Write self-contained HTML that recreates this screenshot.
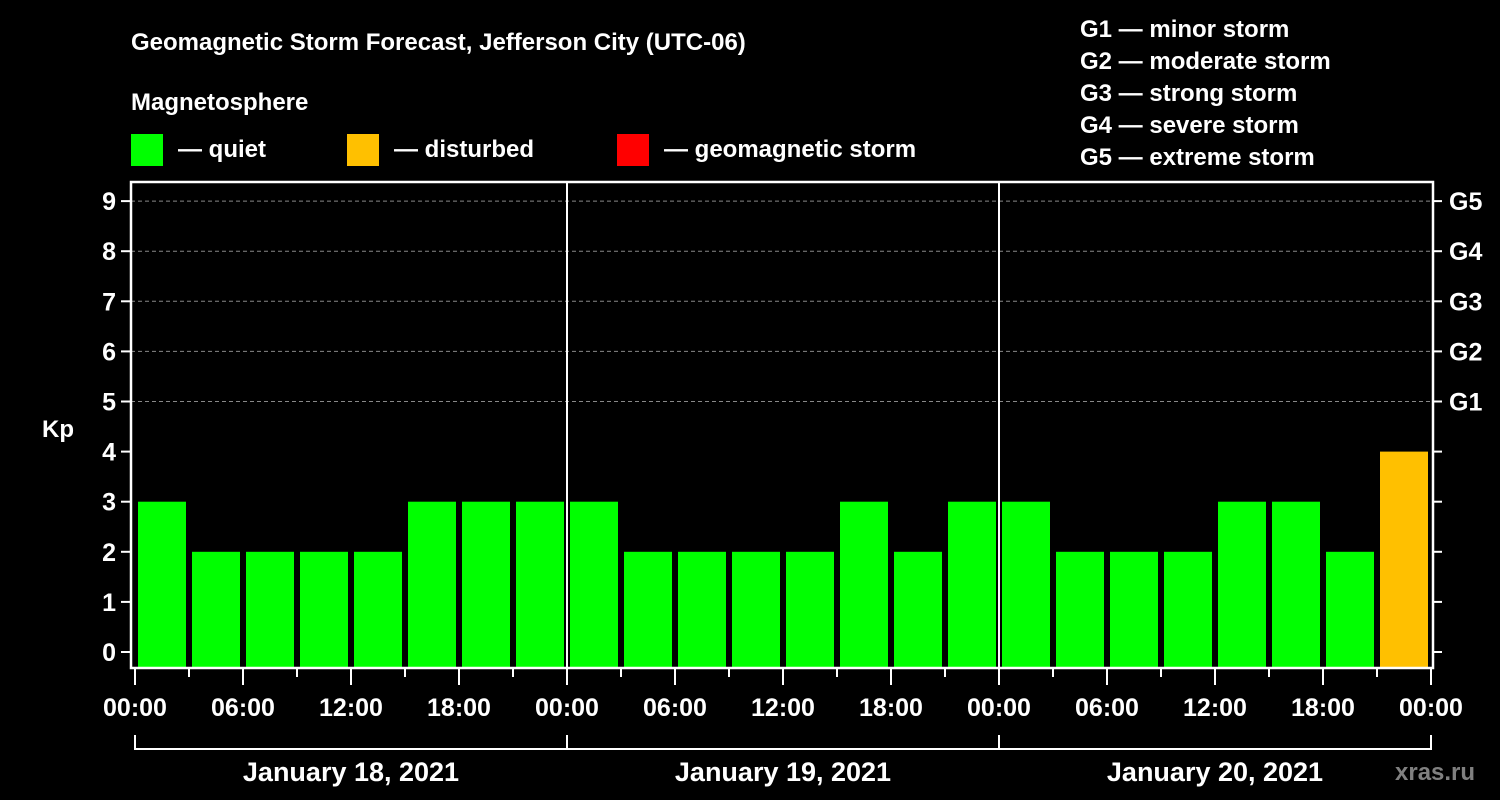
<!DOCTYPE html>
<html><head><meta charset="utf-8"><style>
html,body{margin:0;padding:0;background:#000;width:1500px;height:800px;overflow:hidden}
svg{display:block;font-family:"Liberation Sans",Arial,sans-serif;font-weight:bold}
</style></head><body>
<svg id="chart" width="1500" height="800" viewBox="0 0 1500 800">
<rect width="1500" height="800" fill="#000"/>
<g fill="#fff" font-size="24">
<text x="131" y="50">Geomagnetic Storm Forecast, Jefferson City (UTC-06)</text>
<text x="131" y="110">Magnetosphere</text>
<text x="178" y="157">— quiet</text>
<text x="394" y="157">— disturbed</text>
<text x="664" y="157">— geomagnetic storm</text>
<text x="1080" y="37">G1 — minor storm</text>
<text x="1080" y="69">G2 — moderate storm</text>
<text x="1080" y="101">G3 — strong storm</text>
<text x="1080" y="133">G4 — severe storm</text>
<text x="1080" y="165">G5 — extreme storm</text>
<text x="42" y="437">Kp</text>
</g>
<rect x="131" y="134" width="32" height="32" fill="#00ff00"/>
<rect x="347" y="134" width="32" height="32" fill="#ffc000"/>
<rect x="617" y="134" width="32" height="32" fill="#ff0000"/>
<text x="1395" y="780" fill="#808080" font-size="24">xras.ru</text>
<g id="plot"></g>
</svg>
<script>
const kpValues=[3,2,2,2,2,3,3,3, 3,2,2,2,2,3,2,3, 3,2,2,2,3,3,2,4];
const kpTicks=[0,1,2,3,4,5,6,7,8,9];
const gLabels=["G1","G2","G3","G4","G5"];
const timeLabels=["00:00","06:00","12:00","18:00","00:00","06:00","12:00","18:00","00:00","06:00","12:00","18:00","00:00"];
const dayLabels=["January 18, 2021","January 19, 2021","January 20, 2021"];

const NS="http://www.w3.org/2000/svg";
const plot=document.getElementById('plot');
const X0=135,SLOT=54,Y0=652,KU=50.1,BOT=668,TOP=182,LEFT=131,RIGHT=1433;
const x=i=>X0+i*SLOT;
const y=k=>Y0-k*KU;
function mk(t,a,txt){const e=document.createElementNS(NS,t);for(const k in a)e.setAttribute(k,a[k]);if(txt!==undefined)e.textContent=txt;plot.appendChild(e);return e;}

// grid
kpTicks.forEach(k=>{if(k>=5){const g=mk('line',{x1:LEFT,x2:RIGHT,y1:y(k),y2:y(k),stroke:'#888','stroke-dasharray':'4,3','stroke-width':1});

}});
// bars
kpValues.forEach((v,i)=>{const c=v>=5?'#ff0000':(v>=4?'#ffc000':'#00ff00');
const r=mk('rect',{x:x(i)+3,y:y(v),width:48,height:BOT-y(v),fill:c});

});
// day separators
[1,2].forEach(d=>{const l=mk('line',{x1:x(d*8),x2:x(d*8),y1:TOP,y2:BOT,stroke:'#fff','stroke-width':2});

});
// frame
const f=mk('rect',{x:LEFT,y:TOP,width:RIGHT-LEFT,height:BOT-TOP,fill:'none',stroke:'#fff','stroke-width':2.5});


// y ticks
kpTicks.forEach(k=>{
const t=mk('line',{x1:LEFT-10,x2:LEFT,y1:y(k),y2:y(k),stroke:'#fff','stroke-width':2});


const t2=mk('line',{x1:RIGHT,x2:RIGHT+9,y1:y(k),y2:y(k),stroke:'#fff','stroke-width':2});


const l=mk('text',{x:LEFT-15,y:y(k)+9,fill:'#fff','font-size':25,'text-anchor':'end'},String(k));

});
gLabels.forEach((g,i)=>{const l=mk('text',{x:RIGHT+16,y:y(5+i)+9,fill:'#fff','font-size':25},g);

});
// x ticks
for(let i=0;i<=24;i++){const major=i%2===0;
const t=mk('line',{x1:x(i),x2:x(i),y1:BOT,y2:BOT+(major?17:9),stroke:'#fff','stroke-width':2});

}
timeLabels.forEach((s,i)=>{const l=mk('text',{x:x(i*2),y:716,fill:'#fff','font-size':25,'text-anchor':'middle'},s);

});
// day brackets
dayLabels.forEach((s,d)=>{
const p=mk('path',{d:`M${x(d*8)},735V749H${x(d*8+8)}V735`,fill:'none',stroke:'#fff','stroke-width':2});


const l=mk('text',{x:(x(d*8)+x(d*8+8))/2,y:781,fill:'#fff','font-size':27,'text-anchor':'middle'},s);

});
</script>
</body></html>
